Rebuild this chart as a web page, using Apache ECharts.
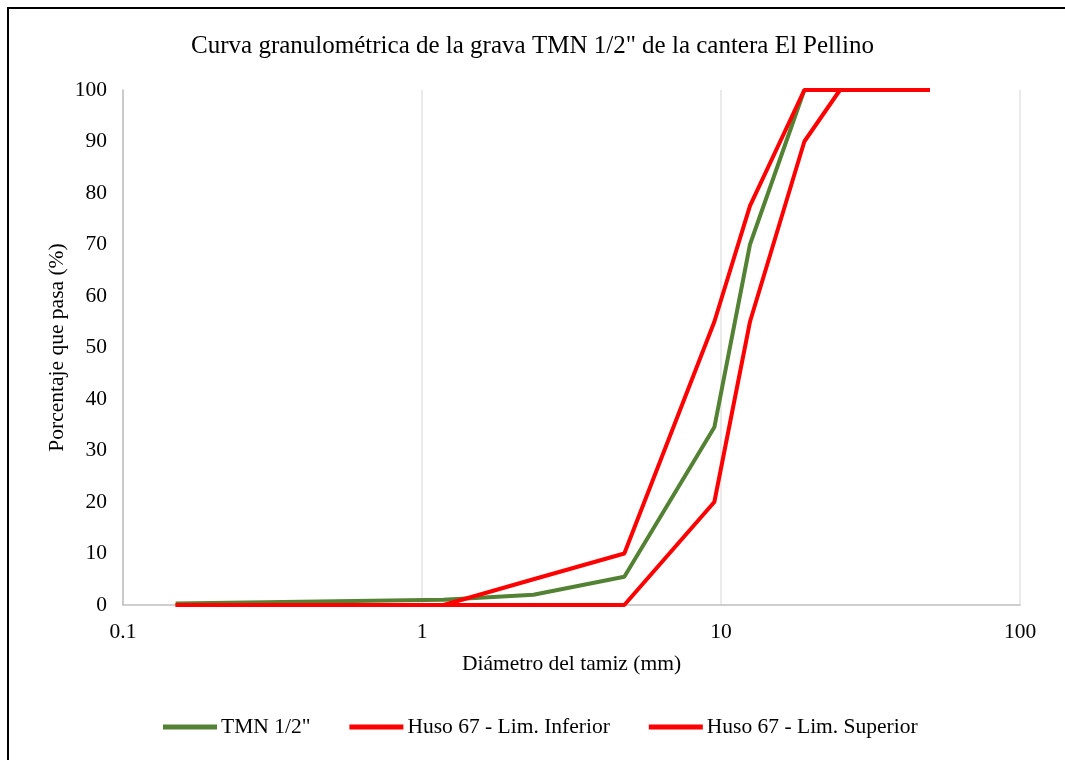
<!DOCTYPE html>
<html>
<head>
<meta charset="utf-8">
<title>Curva granulométrica</title>
<script src="https://cdn.jsdelivr.net/npm/echarts@6/dist/echarts.min.js"></script>
<style>
  html, body { margin: 0; padding: 0; background: #fff; }
  #chart { width: 1065px; height: 760px; }
</style>
</head>
<body>
<div id="chart"></div>
<script>
// ---- DATA ----
const sieveSizes = [0.15, 1.18, 2.36, 4.75, 9.5, 12.5, 19, 25, 50];  // mm
const tmnPassing = [0.3, 1, 2, 5.5, 34.5, 70, 100, 100, 100];
const limInferior = [0, 0, 0, 0, 20, 55, 90, 100, 100];
const limSuperior = [0, 0, 5, 10, 55, 77.5, 100, 100, 100];
const xTicks = [0.1, 1, 10, 100];

const FONT = '"Liberation Serif", "Times New Roman", serif';
const pairs = vals => sieveSizes.map((s, i) => [s, vals[i]]);

function lineSeries(name, vals, color) {
  return {
    name, type: 'line', data: pairs(vals),
    showSymbol: false, symbol: 'none',
    lineStyle: { color, width: 4 },
    itemStyle: { color },
    emphasis: { disabled: true },
    animation: false
  };
}

const chart = echarts.init(document.getElementById('chart'), null, { renderer: 'canvas' });
chart.setOption({
  backgroundColor: '#fff',
  animation: false,
  title: {
    text: 'Curva granulométrica de la grava TMN 1/2" de la cantera El Pellino',
    left: 'center', top: 29,
    textStyle: { fontFamily: FONT, fontSize: 25, fontWeight: 'normal', color: '#000' }
  },
  legend: {
    top: 716, left: 163,
    padding: 0,
    icon: 'rect', itemWidth: 54, itemHeight: 5, itemGap: 39,
    textStyle: { fontFamily: FONT, fontSize: 21.5, color: '#000', padding: [0, 0, 0, -1] },
    data: ['TMN 1/2"', 'Huso 67 - Lim. Inferior', 'Huso 67 - Lim. Superior']
  },
  grid: { left: 123, right: 45, top: 90, bottom: 155, containLabel: false },
  xAxis: {
    type: 'log', logBase: 10, min: 0.1, max: 100,
    name: 'Diámetro del tamiz (mm)', nameLocation: 'middle', nameGap: 48,
    nameMoveOverlap: false,
    nameTextStyle: { fontFamily: FONT, fontSize: 21.5, color: '#000' },
    axisLine: { show: true, lineStyle: { color: '#bfbfbf', width: 1.5 } },
    axisTick: { show: false },
    minorTick: { show: false },
    axisLabel: {
      fontFamily: FONT, fontSize: 21.5, color: '#000', margin: 16,
      formatter: v => {
        const t = xTicks.find(k => Math.abs(k - v) / k < 1e-6);
        return t === undefined ? '' : String(t);
      }
    },
    splitLine: { show: true, lineStyle: { color: '#e3e3e3', width: 1.5 } }
  },
  yAxis: {
    type: 'value', min: 0, max: 100, interval: 10,
    name: 'Porcentaje que pasa (%)', nameLocation: 'middle', nameGap: 55,
    nameMoveOverlap: false,
    nameTextStyle: { fontFamily: FONT, fontSize: 21.5, color: '#000' },
    axisLine: { show: true, lineStyle: { color: '#bfbfbf', width: 1.5 } },
    axisTick: { show: false },
    axisLabel: { fontFamily: FONT, fontSize: 21.5, color: '#000', margin: 16 },
    splitLine: { show: false }
  },
  graphic: [{
    type: 'rect', silent: true, z: 100,
    shape: { x: 8, y: 8, width: 1100, height: 800 },
    style: { fill: 'none', stroke: '#000', lineWidth: 2 }
  }],
  series: [
    lineSeries('TMN 1/2"', tmnPassing, '#548235'),
    lineSeries('Huso 67 - Lim. Inferior', limInferior, '#ff0000'),
    lineSeries('Huso 67 - Lim. Superior', limSuperior, '#ff0000')
  ]
});
</script>
</body>
</html>
